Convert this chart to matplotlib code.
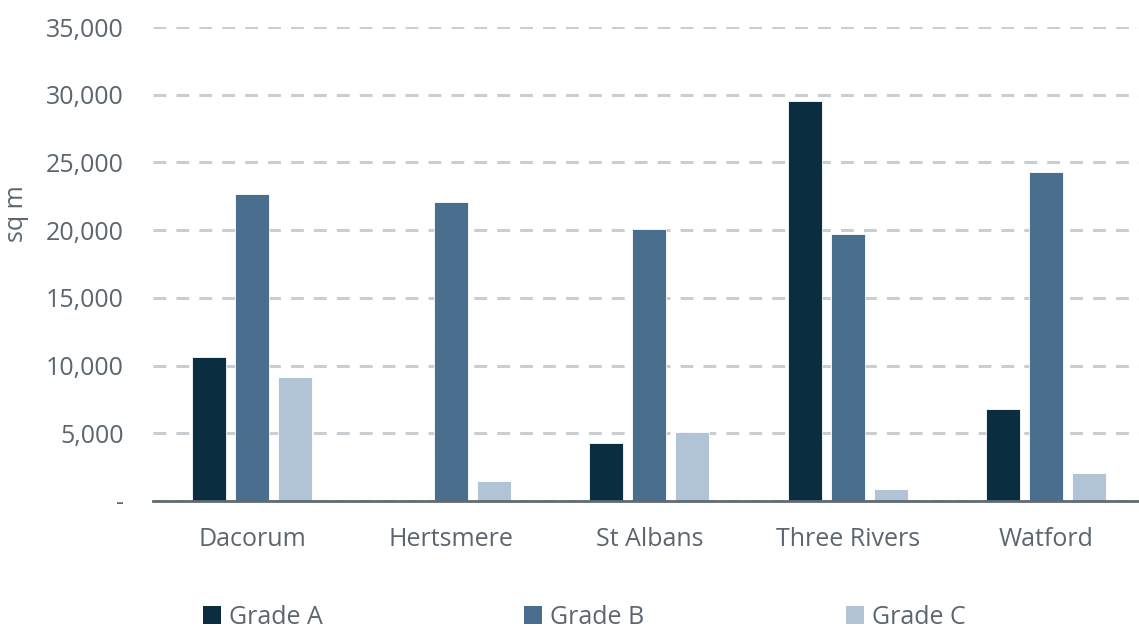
import matplotlib
matplotlib.use("Agg")
import matplotlib.pyplot as plt
import numpy as np
from matplotlib.patches import Patch

categories = ["Dacorum", "Hertsmere", "St Albans", "Three Rivers", "Watford"]
series_names = ["Grade A", "Grade B", "Grade C"]
grade_a = [10650, 0, 4300, 29550, 6800]
grade_b = [22700, 22100, 20100, 19700, 24300]
grade_c = [9150, 1500, 5100, 900, 2070]
y_ticks = [0, 5000, 10000, 15000, 20000, 25000, 30000, 35000]
y_tick_labels = ["-", "5,000", "10,000", "15,000", "20,000", "25,000", "30,000", "35,000"]
colors = ["#0A2D40", "#4A6F8E", "#B0C4D6"]

plt.rcParams['font.family'] = ['Open Sans', 'DejaVu Sans']
text_color = "#5B6670"
fs = 18

fig = plt.figure(figsize=(11.39, 6.30), dpi=100)
ax = fig.add_axes([153/1139, 1-501/630, 1-153/1139, (501-27)/630])

x = np.arange(len(categories))
width = 0.172
pitch = 0.217
for i, (vals, name) in enumerate(zip([grade_a, grade_b, grade_c], series_names)):
    ax.bar(x + (i-1)*pitch, vals, width, color=colors[i], label=name,
           edgecolor="white", linewidth=0.6, zorder=3)

ax.set_ylim(0, 35000)
ax.set_xlim(-0.5, 4.467)
ax.set_yticks(y_ticks)
ax.set_yticklabels(y_tick_labels)
ax.set_xticks(x)
ax.set_xticklabels(categories)
ax.tick_params(axis='both', length=0, colors=text_color, labelsize=fs)
ax.tick_params(axis='y', pad=21)
ax.tick_params(axis='x', pad=19)

for s in ['top', 'right', 'left']:
    ax.spines[s].set_visible(False)
ax.spines['bottom'].set_color("#5F6A72")
ax.spines['bottom'].set_linewidth(2)
ax.spines['bottom'].set_zorder(4)

ax.yaxis.grid(True, color="#C9CED2", linewidth=2.2, linestyle=(0, (4.2, 3.3)), zorder=0)
ax.set_axisbelow(True)

ax.set_ylabel("sq m", color=text_color, fontsize=fs)
ax.yaxis.set_label_coords((29-153)/986, (501-214)/474)

handles = [Patch(facecolor=c, edgecolor='none') for c in colors]
leg = fig.legend(handles, series_names, loc='center left', bbox_to_anchor=(203/1139, 1-617/630),
                 ncol=3, frameon=False, fontsize=fs, handlelength=0.7, handleheight=0.7,
                 handletextpad=0.35, columnspacing=8.05, borderaxespad=0, borderpad=0)
for t in leg.get_texts():
    t.set_color(text_color)

fig.savefig("out.png", dpi=100)
